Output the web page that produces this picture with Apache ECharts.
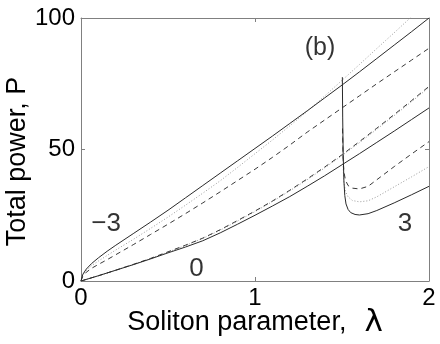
<!DOCTYPE html>
<html>
<head>
<meta charset="utf-8">
<script src="https://cdn.jsdelivr.net/npm/echarts@6/dist/echarts.min.js"></script>
<style>html,body{margin:0;padding:0;background:#fff}#c{width:440px;height:344px}</style>
</head>
<body>
<div id="c"></div>
<script>
// ---- data (λ, P) ----
const xTicks = [0, 1, 2];
const yTicks = [0, 50, 100];

// family "−3"
const negSolid = [[0,0],[0.01,2.5],[0.03,4.5],[0.06,6.6],[0.1,8.8],[0.15,11.3],[0.2,13.6],[0.3,18],[0.4,22.4],[0.5,26.9],[0.6,31.6],[0.7,36.3],[0.8,41],[0.9,45.7],[1.0,50.4],[1.1,55.1],[1.2,59.9],[1.3,64.7],[1.4,69.6],[1.5,74.5],[1.6,79.5],[1.7,84.6],[1.8,89.7],[1.9,94.8],[2.0,100]];
const negDotted = [[0,0],[0.01,2.2],[0.03,4],[0.06,5.8],[0.1,7.6],[0.15,9.7],[0.2,11.8],[0.3,15.8],[0.4,20],[0.5,24.3],[0.6,28.8],[0.7,33.4],[0.8,38.1],[0.9,43.2],[1.0,48.4],[1.1,53.6],[1.2,59],[1.3,64.5],[1.4,70.3],[1.5,76.3],[1.6,82.3],[1.7,88.4],[1.8,94.4],[1.9,100.5],[2.0,106.6]];
const negDashed = [[0,0],[0.01,1.8],[0.03,3.3],[0.06,4.8],[0.1,6.3],[0.15,8.1],[0.2,10],[0.3,13.8],[0.4,17.7],[0.5,21.6],[0.6,25.6],[0.7,29.7],[0.8,33.9],[0.9,38.2],[1.0,42.5],[1.1,47],[1.2,51.7],[1.3,56.6],[1.4,61.2],[1.5,65.8],[1.6,70.4],[1.7,75],[1.8,79.5],[1.9,84],[2.0,88.5]];

// family "0"
const zeroSolid = [[0,0],[0.1,2],[0.2,4.1],[0.3,6.2],[0.4,8.4],[0.5,10.7],[0.6,12.9],[0.7,15.3],[0.8,18.3],[0.9,21.6],[1.0,25],[1.1,28.5],[1.2,32.1],[1.3,36],[1.4,40],[1.5,44.2],[1.6,48.4],[1.7,52.7],[1.8,57],[1.9,61.4],[2.0,65.8]];
const zeroDashed = [[0,0],[0.1,2],[0.2,4.1],[0.3,6.3],[0.4,8.6],[0.5,11.1],[0.6,13.6],[0.7,16.3],[0.8,19.5],[0.9,23],[1.0,26.6],[1.1,30.4],[1.2,34.5],[1.3,38.8],[1.4,43.3],[1.5,48],[1.6,53],[1.7,58.1],[1.8,63.3],[1.9,68.6],[2.0,74]];
const zeroDotted = [[0,0],[0.1,2],[0.2,4.1],[0.3,6.3],[0.4,8.6],[0.5,11],[0.6,13.5],[0.7,16.2],[0.8,19.3],[0.9,22.8],[1.0,26.4],[1.1,30.2],[1.2,34.3],[1.3,38.5],[1.4,43],[1.5,47.7],[1.6,52.6],[1.7,57.7],[1.8,62.9],[1.9,68.2],[2.0,73.6]];

// family "3"
const posSolid = [[1.502,77.5],[1.504,62],[1.507,48],[1.511,38],[1.516,32.5],[1.523,29.3],[1.535,27.2],[1.55,26],[1.575,25.3],[1.6,25.1],[1.65,25.6],[1.7,26.8],[1.8,29.7],[1.9,32.8],[2.0,36]];
const posDotted = [[1.503,55],[1.506,44],[1.511,37.5],[1.52,34],[1.535,32],[1.56,30.6],[1.6,30.1],[1.65,30.5],[1.7,32],[1.8,35.8],[1.9,39.6],[2.0,43.5]];
const posDashed = [[1.503,58],[1.506,47],[1.511,41.5],[1.52,38.3],[1.535,36.3],[1.56,35.3],[1.6,35],[1.65,36],[1.7,38.5],[1.8,43.5],[1.9,48.3],[2.0,53]];

const curveLabels = ['−3', '0', '3', '(b)'];

const FONT = '"Liberation Sans", Arial, Helvetica, sans-serif';
const chart = echarts.init(document.getElementById('c'), null, {renderer: 'canvas'});

const SOLID = {color: '#2a2a2a', width: 1, type: 'solid'};
const DASHED = {color: '#3a3a3a', width: 1, type: [5, 4]};
const DOTTED = {color: '#9a9a9a', width: 1, type: [1, 2]};

function line(data, style) {
  return {type: 'line', data: data, showSymbol: false, symbol: 'none', smooth: false,
    lineStyle: style, clip: true, silent: true, z: 3};
}

const axisLineStyle = {show: true, onZero: false, lineStyle: {color: '#808080', width: 1}};
const tickStyle = {show: true, inside: true, length: 4, lineStyle: {color: '#808080', width: 1}};

const option = {
  animation: false,
  backgroundColor: '#ffffff',
  grid: {left: 81, right: 11, top: 18, bottom: 63, containLabel: false, outerBoundsMode: 'none'},
  xAxis: [
    {type: 'value', min: xTicks[0], max: xTicks[xTicks.length - 1], interval: xTicks[1] - xTicks[0], position: 'bottom',
     axisLine: axisLineStyle, axisTick: tickStyle, splitLine: {show: false},
     axisLabel: {fontSize: 24, fontFamily: FONT, color: '#000', margin: 5},
     name: 'Soliton parameter,{g|}{l|λ}', nameLocation: 'middle', nameGap: 26, nameMoveOverlap: false,
     nameTextStyle: {fontSize: 27, fontFamily: FONT, color: '#000',
       rich: {g: {width: 18}, l: {fontSize: 31, fontFamily: '"DejaVu Sans", sans-serif', color: '#000'}}}},
    {type: 'value', min: xTicks[0], max: xTicks[xTicks.length - 1], interval: xTicks[1] - xTicks[0], position: 'top',
     axisLine: axisLineStyle, axisTick: tickStyle, splitLine: {show: false}, axisLabel: {show: false}}
  ],
  yAxis: [
    {type: 'value', min: yTicks[0], max: yTicks[yTicks.length - 1], interval: yTicks[1] - yTicks[0], position: 'left',
     axisLine: axisLineStyle, axisTick: tickStyle, splitLine: {show: false},
     axisLabel: {fontSize: 24, fontFamily: FONT, color: '#000', margin: 6},
     name: 'Total power, P{s|}', nameLocation: 'middle', nameGap: 50, nameRotate: 90, nameMoveOverlap: false,
     nameTextStyle: {fontSize: 27, fontFamily: FONT, color: '#000', rich: {s: {width: 24}}}},
    {type: 'value', min: yTicks[0], max: yTicks[yTicks.length - 1], interval: yTicks[1] - yTicks[0], position: 'right',
     axisLine: axisLineStyle, axisTick: tickStyle, splitLine: {show: false}, axisLabel: {show: false}}
  ],
  series: [
    line(negDotted, DOTTED), line(negDashed, DASHED), line(negSolid, SOLID),
    line(zeroDotted, DOTTED), line(zeroDashed, DASHED), line(zeroSolid, SOLID),
    line(posDotted, DOTTED), line(posDashed, DASHED), line(posSolid, SOLID),
    {
      type: 'scatter', silent: true, symbolSize: 1, itemStyle: {color: 'rgba(0,0,0,0)'}, z: 5,
      label: {show: true, position: 'inside', formatter: p => p.name, fontFamily: FONT, color: '#000', fontSize: 26},
      data: [
        {name: curveLabels[0], value: [0.144, 21.7]},
        {name: curveLabels[1], value: [0.664, 4.6]},
        {name: curveLabels[2], value: [1.862, 21.7]},
        {name: curveLabels[3], value: [1.374, 88.6], label: {fontSize: 25}}
      ]
    }
  ]
};
chart.setOption(option);
</script>
</body>
</html>
